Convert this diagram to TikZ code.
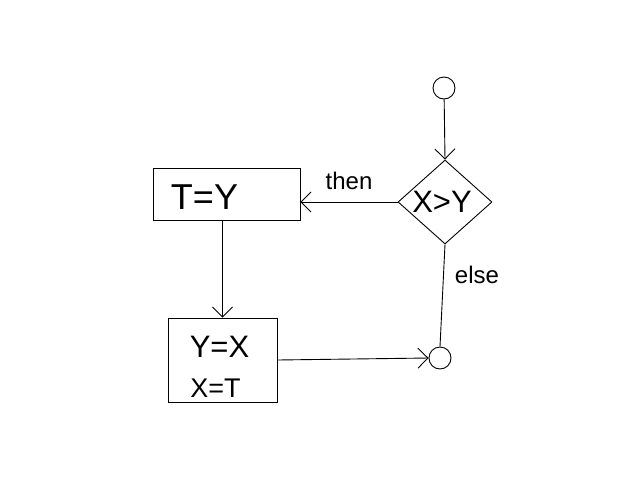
\documentclass[tikz,border=0pt]{standalone}
\usepackage{fontspec}
\setmainfont{Liberation Sans}
\usetikzlibrary{shapes.geometric,arrows.meta}
\tikzset{
  every path/.style={line width=0.9pt},
  conn/.style={draw, -{Straight Barb[length=10pt,width=20pt,line width=0.9pt]}},
  plain/.style={draw},
  procbox/.style={draw, rectangle, inner sep=0pt},
  term/.style={draw, circle, inner sep=0pt, minimum size=22pt},
  decision/.style={draw, diamond, inner sep=0pt, minimum width=94pt, minimum height=84pt},
  lbl/.style={font=\fontsize{24}{28}\selectfont, inner sep=0pt},
  big/.style={font=\fontsize{36}{40}\selectfont, inner sep=0pt},
  mid/.style={font=\fontsize{31}{36}\selectfont, inner sep=0pt},
  small/.style={font=\fontsize{27}{32}\selectfont, inner sep=0pt},
}
\begin{document}
\begin{tikzpicture}[x=1pt,y=-1pt]
\useasboundingbox (0,0) rectangle (640,480);
\node[term] (s) at (444,88) {};
\node[decision, label={[mid, xshift=-3pt]center:X>Y}] (d) at (445,202) {};
\node[procbox, minimum width=147pt, minimum height=52pt, label={[big, xshift=-22pt, yshift=-3pt]center:T=Y}] (b1) at (226.5,194) {};
\node[procbox, minimum width=109pt, minimum height=84pt,
  label={[mid, xshift=-3pt, yshift=13pt]center:Y=X},
  label={[small, xshift=-7pt, yshift=-28pt]center:X=T}] (b2) at (222.5,360) {};
\node[term] (e) at (440,358) {};
\node[lbl] (then) at (349,181) {then};
\node[lbl] (else) at (477,275) {else};
\draw[conn] (s) -- (d.north);
\draw[conn] (d.west) -- (b1.east |- d.west);
\draw[conn] (b2.north |- b1.south) -- (b2.north);
\draw[conn] (b2.east) -- (e.west);
\draw[plain] (d.south) -- (e.north);
\end{tikzpicture}
\end{document}
